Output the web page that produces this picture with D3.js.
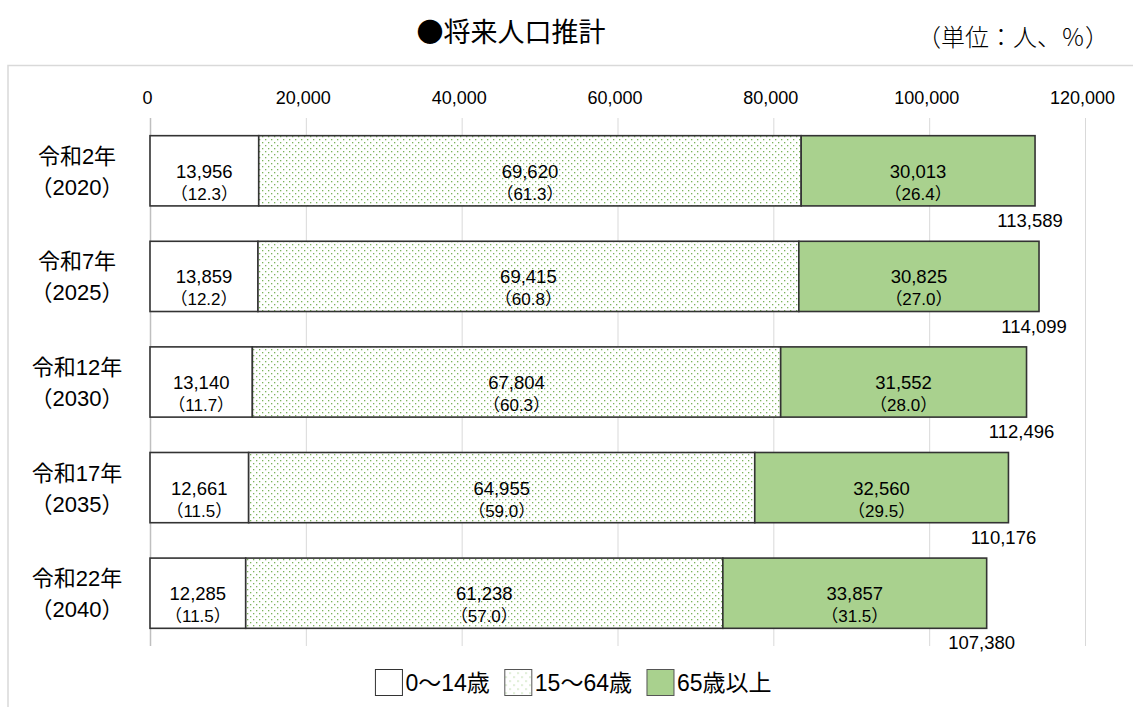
<!DOCTYPE html>
<html><head><meta charset="utf-8">
<script src="https://cdn.jsdelivr.net/npm/d3@7"></script>
<style>
html,body{margin:0;padding:0;background:#fff;}
svg text{font-family:"Liberation Sans","Noto Sans CJK JP",sans-serif;fill:#000;}
</style></head>
<body>
<svg id="c" width="1133" height="707"></svg>
<script>
const categories = ["令和2年","令和7年","令和12年","令和17年","令和22年"];
const yearLabels = ["（2020）","（2025）","（2030）","（2035）","（2040）"];
const age0to14 = [13956,13859,13140,12661,12285];
const age15to64 = [69620,69415,67804,64955,61238];
const age65plus = [30013,30825,31552,32560,33857];
const pct0to14 = [12.3,12.2,11.7,11.5,11.5];
const pct15to64 = [61.3,60.8,60.3,59.0,57.0];
const pct65plus = [26.4,27.0,28.0,29.5,31.5];
const totals = [113589,114099,112496,110176,107380];
const xTicks = [0,20000,40000,60000,80000,100000,120000];
const seriesNames = ["0～14歳","15～64歳","65歳以上"];

const svg = d3.select("#c");
const defs = svg.append("defs");
const pat = defs.append("pattern").attr("id","dots").attr("patternUnits","userSpaceOnUse")
  .attr("width",6).attr("height",6);
pat.append("rect").attr("width",6).attr("height",6).attr("fill","#fff");
pat.append("rect").attr("x",1).attr("y",1).attr("width",1.3).attr("height",1.3).attr("fill","#7cb35c");
pat.append("rect").attr("x",4).attr("y",4).attr("width",1.3).attr("height",1.3).attr("fill","#7cb35c");
const pat2 = defs.append("pattern").attr("id","dotsL").attr("patternUnits","userSpaceOnUse")
  .attr("width",8).attr("height",8);
pat2.append("rect").attr("width",8).attr("height",8).attr("fill","#fff");
pat2.append("rect").attr("x",2).attr("y",2).attr("width",1.2).attr("height",1.2).attr("fill","#a9d18e");
pat2.append("rect").attr("x",6).attr("y",6).attr("width",1.2).attr("height",1.2).attr("fill","#a9d18e");

// frame
svg.append("rect").attr("x",8).attr("y",65.5).attr("width",1140).attr("height",700)
  .attr("fill","none").attr("stroke","#d9d9d9").attr("stroke-width",1.5);

// title
const cjk = "'Noto Sans CJK JP',sans-serif";
svg.append("text").attr("x",511).attr("y",42).attr("text-anchor","middle")
  .style("font-family",cjk).style("font-size","27px").style("font-weight",400)
  .text("●将来人口推計");
svg.append("text").attr("x",1109).attr("y",46).attr("text-anchor","end")
  .style("font-family",cjk).style("font-size","24px").style("font-weight",300)
  .text("（単位：人、％）");

const x = d3.scaleLinear().domain([0,120000]).range([150,1085]);
const y = d3.scaleBand().domain(categories).range([118,646]).paddingInner(0.335).paddingOuter(0.1675);

// gridlines
svg.append("g").selectAll("line").data(xTicks).join("line")
  .attr("x1",d=>x(d)+0.5).attr("x2",d=>x(d)+0.5).attr("y1",118).attr("y2",646)
  .attr("stroke",d=>d===0?"#bfbfbf":"#d9d9d9").attr("stroke-width",d=>d===0?1.5:1);

// top axis
const ax = svg.append("g").attr("transform","translate(-3,104)")
  .call(d3.axisTop(x).tickValues(xTicks).tickSize(0).tickPadding(0).tickFormat(d3.format(",")));
ax.select(".domain").remove();
ax.selectAll("text").style("font-size","18px").style("font-family","'Liberation Sans'").style("fill","#000");

// stacks
const rows = categories.map((c,i)=>({cat:c,vals:[age0to14[i],age15to64[i],age65plus[i]],pcts:[pct0to14[i],pct15to64[i],pct65plus[i]],total:totals[i],year:yearLabels[i]}));
const fills = ["#ffffff","url(#dots)","#a9d18e"];
const bw = y.bandwidth();
rows.forEach(r=>{
  let acc=0;
  const g = svg.append("g");
  r.vals.forEach((v,j)=>{
    const x0 = x(acc), x1 = x(acc+v);
    g.append("rect").attr("x",x0).attr("y",y(r.cat)).attr("width",x1-x0).attr("height",bw)
      .attr("fill",fills[j]).attr("stroke","#333").attr("stroke-width",1.6);
    const cx=(x0+x1)/2, cy=y(r.cat)+bw/2;
    g.append("text").attr("x",cx).attr("y",cy+7).attr("text-anchor","middle").style("font-size","18.5px")
      .text(d3.format(",")(v));
    g.append("text").attr("x",cx).attr("y",cy+29).attr("text-anchor","middle").style("font-size","17px")
      .text("（"+r.pcts[j].toFixed(1)+"）");
    acc+=v;
  });
  const cy=y(r.cat)+bw/2;
  svg.append("text").attr("x",77).attr("y",cy-7).attr("text-anchor","middle").style("font-size","22px")
    .text(r.cat);
  svg.append("text").attr("x",77).attr("y",cy+24).attr("text-anchor","middle").style("font-size","22px")
    .text(r.year);
  svg.append("text").attr("x",x(r.total)-5).attr("y",y(r.cat)+bw+21).attr("text-anchor","middle")
    .style("font-size","18.5px").text(d3.format(",")(r.total));
});

// legend
const lfills=["#ffffff","url(#dotsL)","#a9d18e"];
const lg = svg.append("g");
let lx=0;
seriesNames.forEach((n,i)=>{
  lg.append("rect").attr("x",lx).attr("y",-13).attr("width",27).attr("height",26)
    .attr("fill",lfills[i]).attr("stroke",i===0?"#333":"#555").attr("stroke-width",1);
  const t = lg.append("text").attr("x",lx+30).attr("y",8).style("font-size","23px").text(n);
  lx += 30 + t.node().getComputedTextLength() + 15;
});
lx -= 15;
lg.attr("transform",`translate(${573-lx/2+0.5},682.5)`);
</script>
</body></html>
